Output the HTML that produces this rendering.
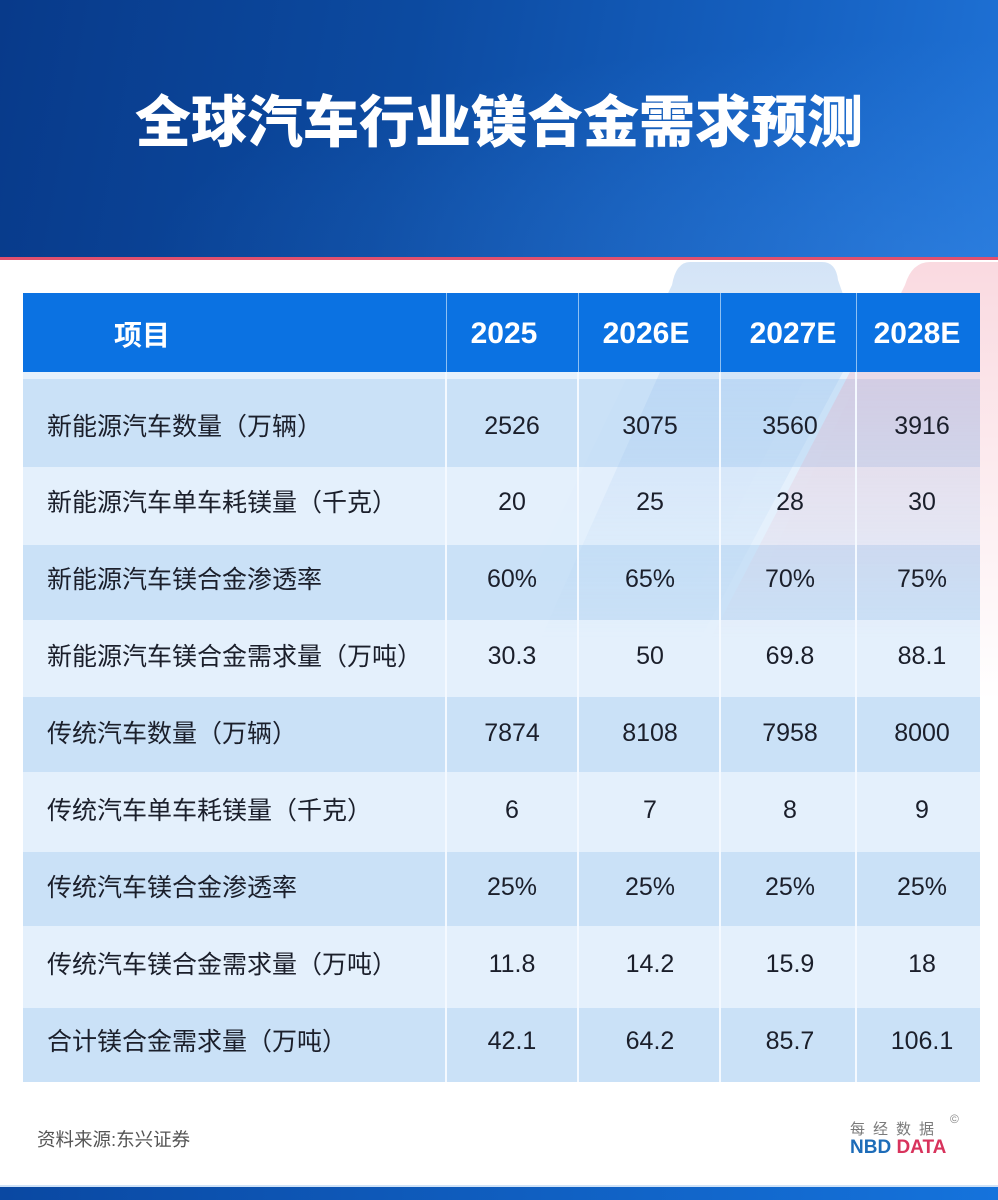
<!DOCTYPE html>
<html>
<head>
<meta charset="utf-8">
<style>
html,body{margin:0;padding:0;}
body{width:998px;height:1200px;position:relative;overflow:hidden;background:#ffffff;font-family:"Liberation Sans","Noto Sans CJK SC",sans-serif;}
.hdr{position:absolute;left:0;top:0;width:998px;height:257px;background:linear-gradient(100deg,#083a8a 0%,#0c4aa0 40%,#1560c0 75%,#1f72d6 100%);}
.hdr:after{content:"";position:absolute;left:0;top:0;right:0;bottom:0;background:radial-gradient(ellipse at 95% 100%,rgba(70,150,240,0.3),rgba(70,150,240,0) 60%);}
.redline{position:absolute;left:0;top:257px;width:998px;height:3px;background:#e0506e;}
.title{position:absolute;left:0;top:79px;width:998px;text-align:center;color:#fff;font-family:"Noto Sans CJK SC","WenQuanYi Zen Hei",sans-serif;font-weight:900;font-size:56px;line-height:80px;letter-spacing:0px;}
.deco{position:absolute;left:0;top:0;}
.th{position:absolute;top:293px;height:79px;background:#0b72e2;}
.tht{position:absolute;color:#fff;font-weight:bold;font-size:30px;line-height:40px;top:314px;text-align:center;font-family:"Liberation Sans","Noto Sans CJK SC",sans-serif;}
.gap{position:absolute;left:23px;top:372px;width:957px;height:7px;background:#e6f1fc;}
.row{position:absolute;left:23px;width:957px;}
.dark{background:rgba(198,222,246,0.92);}
.light{background:rgba(226,239,252,0.92);}
.vl{position:absolute;width:2px;background:#f4f9ff;}
.vlh{position:absolute;width:1px;background:#8ec0f3;top:293px;height:79px;}
.lab{position:absolute;left:47px;color:#1b1f2b;font-size:25px;line-height:34px;font-family:"Liberation Sans","Noto Sans CJK SC",sans-serif;white-space:nowrap;}
.num{position:absolute;color:#1b1f2b;font-size:25px;line-height:34px;width:130px;text-align:center;font-family:"Liberation Sans","Noto Sans CJK SC",sans-serif;}
.src{position:absolute;left:37px;top:1128px;font-size:18.5px;line-height:24px;color:#555;font-family:"Liberation Sans","Noto Sans CJK SC",sans-serif;}
.logo1{position:absolute;left:850px;top:1119px;font-size:15px;line-height:20px;color:#7a7a7a;letter-spacing:8px;font-family:"Noto Sans CJK SC",sans-serif;}
.copy{position:absolute;left:950px;top:1112px;font-size:12px;color:#888;}
.logo2{position:absolute;left:850px;top:1136px;font-size:19px;line-height:24px;font-weight:bold;font-family:"Liberation Sans",sans-serif;}
.bot{position:absolute;left:0;top:1187px;width:998px;height:13px;background:linear-gradient(90deg,#0a48a2,#1573dc);}
.botl{position:absolute;left:0;top:1185px;width:998px;height:2px;background:#cfe2f7;}
</style>
</head>
<body>
<div class="hdr"></div>
<div class="redline"></div>
<div class="title">全球汽车行业镁合金需求预测</div>

<svg class="deco" width="998" height="1200" viewBox="0 0 998 1200">
<defs>
<linearGradient id="gb" x1="0" y1="0" x2="0" y2="1">
<stop offset="0" stop-color="#a9c9ee" stop-opacity="0.5"/>
<stop offset="1" stop-color="#a9c9ee" stop-opacity="0"/>
</linearGradient>
<linearGradient id="gp" x1="0" y1="0" x2="0" y2="1">
<stop offset="0" stop-color="#f2a6b6" stop-opacity="0.42"/>
<stop offset="1" stop-color="#f2a6b6" stop-opacity="0"/>
</linearGradient>
</defs>
<path d="M690,262 L822,262 Q836,262 838,280 L845,300 L640,700 L470,700 L672,285 Q676,262 690,262 Z" fill="url(#gb)"/>
<path d="M930,262 L998,262 L998,700 L700,700 L905,285 Q912,262 930,262 Z" fill="url(#gp)"/>
</svg>

<div class="th" style="left:23px;width:957px;"></div>
<div class="vlh" style="left:446px;"></div>
<div class="vlh" style="left:578px;"></div>
<div class="vlh" style="left:720px;"></div>
<div class="vlh" style="left:856px;"></div>
<div class="tht" style="left:100px;width:84px;font-family:'Noto Sans CJK SC',sans-serif;font-size:28px;">项目</div>
<div class="tht" style="left:439px;width:130px;">2025</div>
<div class="tht" style="left:581px;width:130px;">2026E</div>
<div class="tht" style="left:728px;width:130px;">2027E</div>
<div class="tht" style="left:852px;width:130px;">2028E</div>

<div class="gap"></div>

<div class="row dark" style="top:379px;height:88px;"></div>
<div class="row light" style="top:467px;height:78px;"></div>
<div class="row dark" style="top:545px;height:75px;"></div>
<div class="row light" style="top:620px;height:77px;"></div>
<div class="row dark" style="top:697px;height:75px;"></div>
<div class="row light" style="top:772px;height:80px;"></div>
<div class="row dark" style="top:852px;height:74px;"></div>
<div class="row light" style="top:926px;height:82px;"></div>
<div class="row dark" style="top:1008px;height:74px;"></div>

<svg class="deco" width="998" height="1200" viewBox="0 0 998 1200" style="opacity:0.5">
<defs>
<linearGradient id="gb2" x1="0" y1="0" x2="0" y2="1">
<stop offset="0" stop-color="#9cc2ee" stop-opacity="0.5"/>
<stop offset="1" stop-color="#9cc2ee" stop-opacity="0"/>
</linearGradient>
<linearGradient id="gp2" x1="0" y1="0" x2="0" y2="1">
<stop offset="0" stop-color="#e9a2b8" stop-opacity="0.6"/>
<stop offset="1" stop-color="#e9a2b8" stop-opacity="0"/>
</linearGradient>
</defs>
<path d="M660,372 L843,372 L700,640 L540,640 Z" fill="url(#gb2)"/>
<path d="M850,372 L980,372 L980,640 L710,640 Z" fill="url(#gp2)"/>
</svg>

<div class="vl" style="left:445px;top:372px;height:710px;"></div>
<div class="vl" style="left:577px;top:372px;height:710px;"></div>
<div class="vl" style="left:719px;top:372px;height:710px;"></div>
<div class="vl" style="left:855px;top:372px;height:710px;"></div>

<div class="lab" style="top:410px;">新能源汽车数量（万辆）</div>
<div class="lab" style="top:486px;">新能源汽车单车耗镁量（千克）</div>
<div class="lab" style="top:563px;">新能源汽车镁合金渗透率</div>
<div class="lab" style="top:640px;">新能源汽车镁合金需求量（万吨）</div>
<div class="lab" style="top:717px;">传统汽车数量（万辆）</div>
<div class="lab" style="top:794px;">传统汽车单车耗镁量（千克）</div>
<div class="lab" style="top:871px;">传统汽车镁合金渗透率</div>
<div class="lab" style="top:948px;">传统汽车镁合金需求量（万吨）</div>
<div class="lab" style="top:1025px;">合计镁合金需求量（万吨）</div>

<div class="num" style="left:447px;top:409px;">2526</div>
<div class="num" style="left:585px;top:409px;">3075</div>
<div class="num" style="left:725px;top:409px;">3560</div>
<div class="num" style="left:857px;top:409px;">3916</div>

<div class="num" style="left:447px;top:485px;">20</div>
<div class="num" style="left:585px;top:485px;">25</div>
<div class="num" style="left:725px;top:485px;">28</div>
<div class="num" style="left:857px;top:485px;">30</div>

<div class="num" style="left:447px;top:562px;">60%</div>
<div class="num" style="left:585px;top:562px;">65%</div>
<div class="num" style="left:725px;top:562px;">70%</div>
<div class="num" style="left:857px;top:562px;">75%</div>

<div class="num" style="left:447px;top:639px;">30.3</div>
<div class="num" style="left:585px;top:639px;">50</div>
<div class="num" style="left:725px;top:639px;">69.8</div>
<div class="num" style="left:857px;top:639px;">88.1</div>

<div class="num" style="left:447px;top:716px;">7874</div>
<div class="num" style="left:585px;top:716px;">8108</div>
<div class="num" style="left:725px;top:716px;">7958</div>
<div class="num" style="left:857px;top:716px;">8000</div>

<div class="num" style="left:447px;top:793px;">6</div>
<div class="num" style="left:585px;top:793px;">7</div>
<div class="num" style="left:725px;top:793px;">8</div>
<div class="num" style="left:857px;top:793px;">9</div>

<div class="num" style="left:447px;top:870px;">25%</div>
<div class="num" style="left:585px;top:870px;">25%</div>
<div class="num" style="left:725px;top:870px;">25%</div>
<div class="num" style="left:857px;top:870px;">25%</div>

<div class="num" style="left:447px;top:947px;">11.8</div>
<div class="num" style="left:585px;top:947px;">14.2</div>
<div class="num" style="left:725px;top:947px;">15.9</div>
<div class="num" style="left:857px;top:947px;">18</div>

<div class="num" style="left:447px;top:1024px;">42.1</div>
<div class="num" style="left:585px;top:1024px;">64.2</div>
<div class="num" style="left:725px;top:1024px;">85.7</div>
<div class="num" style="left:857px;top:1024px;">106.1</div>

<div class="src">资料来源:东兴证券</div>
<div class="logo1">每经数据</div>
<div class="copy">©</div>
<div class="logo2"><span style="color:#1d6cb8;">NBD</span> <span style="color:#d8335c;">DATA</span></div>
<div class="botl"></div>
<div class="bot"></div>
</body>
</html>
